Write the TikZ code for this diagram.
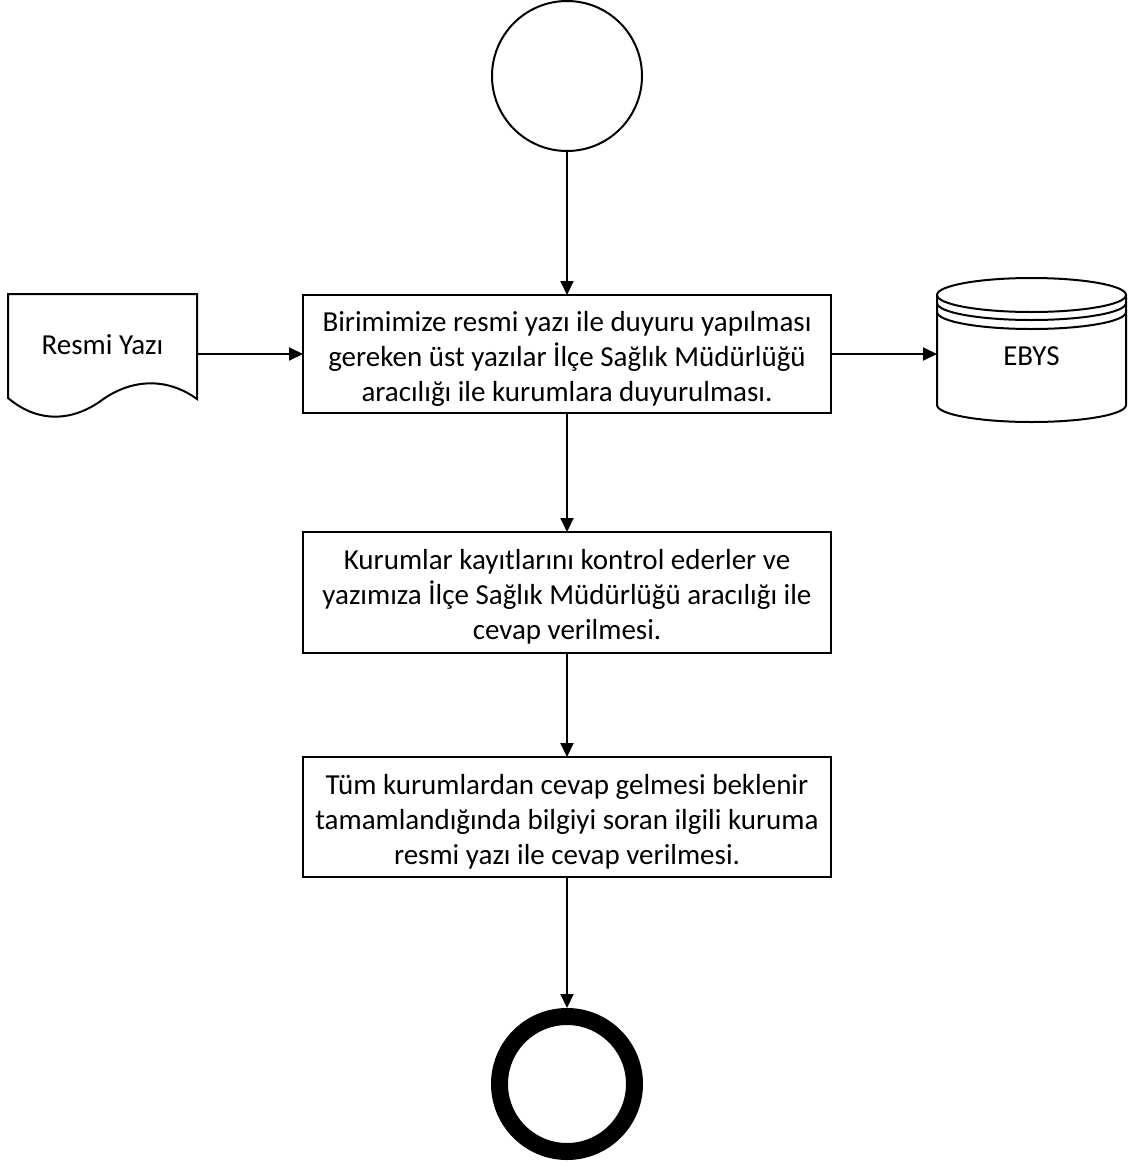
\documentclass[tikz,border=0pt]{standalone}
\usepackage{fontspec}
\setmainfont{Carlito}
\usetikzlibrary{arrows.meta}
\newcommand{\boxtext}[1]{\raisebox{-5pt}[\height][\depth]{\begin{tabular}{@{}c@{}}#1\end{tabular}}}
\tikzset{
  every node/.style={font=\fontsize{29}{35}\selectfont, inner sep=0pt, outer sep=0pt},
  stepbox/.style={draw, line width=2pt, minimum width=528pt, align=center},
  conn/.style={line width=2pt, -{Triangle[length=14pt,width=13pt]}},
  shapeline/.style={line width=2pt}
}
\begin{document}
\begin{tikzpicture}[x=1pt,y=-1pt]
\useasboundingbox[fill=white] (0,0) rectangle (1148,1170);

% start / end
\node[circle, draw, line width=2pt, minimum size=150pt] (start) at (567,76) {};
\node[circle, draw, line width=17pt, minimum size=135pt] (stop) at (567,1084) {};

% process boxes
\node[stepbox, minimum height=118pt] (b1) at (567,354)
  {\boxtext{Birimimize resmi yazı ile duyuru yapılması\\gereken üst yazılar İlçe Sağlık Müdürlüğü\\aracılığı ile kurumlara duyurulması.}};
\node[stepbox, minimum height=121pt] (b2) at (567,592.5)
  {\boxtext{Kurumlar kayıtlarını kontrol ederler ve\\yazımıza İlçe Sağlık Müdürlüğü aracılığı ile\\cevap verilmesi.}};
\node[stepbox, minimum height=120pt] (b3) at (567,817)
  {\boxtext{Tüm kurumlardan cevap gelmesi beklenir\\tamamlandığında bilgiyi soran ilgili kuruma\\resmi yazı ile cevap verilmesi.}};

% document shape
\draw[shapeline] (8,398) -- (8,294) -- (197,294) -- (197,399)
  .. controls (165,376) and (130,380) .. (102,400)
  .. controls (75,420) and (40,425) .. (8,398) -- cycle;
\node[minimum width=189pt, minimum height=116pt] (doc) at (102.5,354) {\raisebox{9pt}[\height][\depth]{Resmi Yazı}};

% database cylinder
\draw[shapeline] (1031.5,295) ellipse[x radius=94.5, y radius=17];
\draw[shapeline] (937,303) arc[start angle=180, end angle=0, x radius=94.5, y radius=17];
\draw[shapeline] (937,312) arc[start angle=180, end angle=0, x radius=94.5, y radius=17];
\draw[shapeline] (937,295) -- (937,405) arc[start angle=180, end angle=0, x radius=94.5, y radius=17] -- (1126,295);
\node[minimum width=189pt, minimum height=120pt] (db) at (1031.5,354) {\raisebox{-2pt}[\height][\depth]{EBYS}};

% connectors
\draw[conn] (start.south) -- (b1.north);
\draw[conn] (doc.east) -- (b1.west);
\draw[conn] (b1.east) -- (db.west);
\draw[conn] (b1.south) -- (b2.north);
\draw[conn] (b2.south) -- (b3.north);
\draw[conn, shorten >=8.5pt] (b3.south) -- (stop.north);
\end{tikzpicture}
\end{document}
